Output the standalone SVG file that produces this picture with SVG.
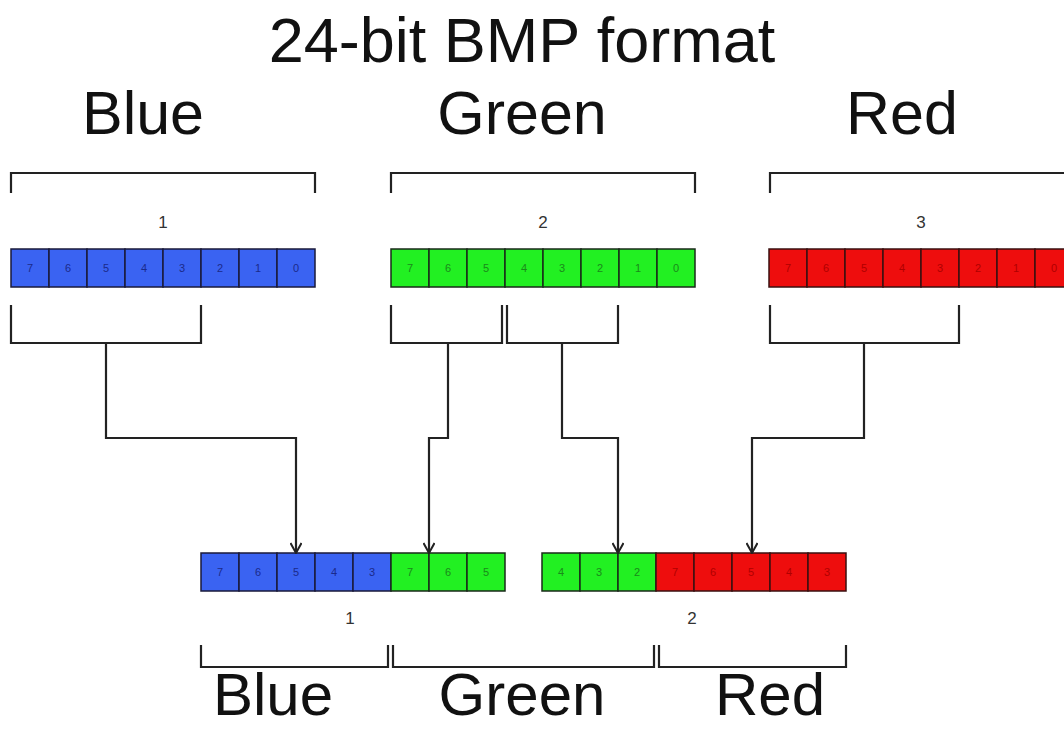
<svg xmlns="http://www.w3.org/2000/svg" width="1064" height="729" viewBox="0 0 1064 729">
<defs>
<style>
.big{font-family:"Liberation Sans",Arial,sans-serif;font-size:61px;fill:#111;text-anchor:middle}
.big2{font-family:"Liberation Sans",Arial,sans-serif;font-size:60px;fill:#111;text-anchor:middle}
.title{font-family:"Liberation Sans",Arial,sans-serif;font-size:63px;fill:#111;text-anchor:middle}
.num{font-family:"Liberation Sans",Arial,sans-serif;font-size:17px;fill:#333;text-anchor:middle}
.bit{font-family:"Liberation Sans",Arial,sans-serif;font-size:11px;text-anchor:middle}
.b rect{fill:#3a63f2;stroke:#1a1a3a;stroke-width:1.5}
.b text{fill:#1a2a8a}
.g rect{fill:#22f022;stroke:#1a2a1a;stroke-width:1.5}
.g text{fill:#1a8a1a}
.r rect{fill:#ee0d0d;stroke:#3a1010;stroke-width:1.5}
.r text{fill:#b00000}
.br{fill:none;stroke:#222;stroke-width:2.2}
.conn{fill:none;stroke:#222;stroke-width:2.2}
</style>
<marker id="ah" viewBox="0 0 12 12" refX="11" refY="6" markerWidth="12" markerHeight="12" markerUnits="userSpaceOnUse" orient="auto">
<path d="M1,0.5 L11,6 L1,11.5" fill="none" stroke="#222" stroke-width="2"/>
</marker>
</defs>
<rect width="1064" height="729" fill="#fff"/>
<text class="title" x="522" y="62">24-bit BMP format</text>
<text class="big" x="143" y="134">Blue</text>
<text class="big" x="522" y="134">Green</text>
<text class="big" x="902" y="134">Red</text>

<!-- top brackets -->
<path class="br" d="M11,193 V173 H315 V193"/>
<path class="br" d="M391,193 V173 H695 V193"/>
<path class="br" d="M770,193 V173 H1070"/>
<text class="num" x="163" y="228">1</text>
<text class="num" x="543" y="228">2</text>
<text class="num" x="921" y="228">3</text>

<g id="byte1" class="b bit">
<rect x="11" y="249" width="38" height="38"/><rect x="49" y="249" width="38" height="38"/><rect x="87" y="249" width="38" height="38"/><rect x="125" y="249" width="38" height="38"/><rect x="163" y="249" width="38" height="38"/><rect x="201" y="249" width="38" height="38"/><rect x="239" y="249" width="38" height="38"/><rect x="277" y="249" width="38" height="38"/>
<text x="30" y="272">7</text><text x="68" y="272">6</text><text x="106" y="272">5</text><text x="144" y="272">4</text><text x="182" y="272">3</text><text x="220" y="272">2</text><text x="258" y="272">1</text><text x="296" y="272">0</text>
</g>
<g id="byte2" class="g bit">
<rect x="391" y="249" width="38" height="38"/><rect x="429" y="249" width="38" height="38"/><rect x="467" y="249" width="38" height="38"/><rect x="505" y="249" width="38" height="38"/><rect x="543" y="249" width="38" height="38"/><rect x="581" y="249" width="38" height="38"/><rect x="619" y="249" width="38" height="38"/><rect x="657" y="249" width="38" height="38"/>
<text x="410" y="272">7</text><text x="448" y="272">6</text><text x="486" y="272">5</text><text x="524" y="272">4</text><text x="562" y="272">3</text><text x="600" y="272">2</text><text x="638" y="272">1</text><text x="676" y="272">0</text>
</g>
<g id="byte3" class="r bit">
<rect x="769" y="249" width="38" height="38"/><rect x="807" y="249" width="38" height="38"/><rect x="845" y="249" width="38" height="38"/><rect x="883" y="249" width="38" height="38"/><rect x="921" y="249" width="38" height="38"/><rect x="959" y="249" width="38" height="38"/><rect x="997" y="249" width="38" height="38"/><rect x="1035" y="249" width="38" height="38"/>
<text x="788" y="272">7</text><text x="826" y="272">6</text><text x="864" y="272">5</text><text x="902" y="272">4</text><text x="940" y="272">3</text><text x="978" y="272">2</text><text x="1016" y="272">1</text><text x="1054" y="272">0</text>
</g>

<g id="out1">
<g class="b bit">
<rect x="201" y="553" width="38" height="38"/><rect x="239" y="553" width="38" height="38"/><rect x="277" y="553" width="38" height="38"/><rect x="315" y="553" width="38" height="38"/><rect x="353" y="553" width="38" height="38"/>
<text x="220" y="576">7</text><text x="258" y="576">6</text><text x="296" y="576">5</text><text x="334" y="576">4</text><text x="372" y="576">3</text>
</g>
<g class="g bit">
<rect x="391" y="553" width="38" height="38"/><rect x="429" y="553" width="38" height="38"/><rect x="467" y="553" width="38" height="38"/>
<text x="410" y="576">7</text><text x="448" y="576">6</text><text x="486" y="576">5</text>
</g>
<text class="num" x="350" y="624">1</text>
</g>
<g id="out2">
<g class="g bit">
<rect x="542" y="553" width="38" height="38"/><rect x="580" y="553" width="38" height="38"/><rect x="618" y="553" width="38" height="38"/>
<text x="561" y="576">4</text><text x="599" y="576">3</text><text x="637" y="576">2</text>
</g>
<g class="r bit">
<rect x="656" y="553" width="38" height="38"/><rect x="694" y="553" width="38" height="38"/><rect x="732" y="553" width="38" height="38"/><rect x="770" y="553" width="38" height="38"/><rect x="808" y="553" width="38" height="38"/>
<text x="675" y="576">7</text><text x="713" y="576">6</text><text x="751" y="576">5</text><text x="789" y="576">4</text><text x="827" y="576">3</text>
</g>
<text class="num" x="692" y="624">2</text>
</g>

<g id="connectors">
<path class="br" d="M11,305 V343 H201 V305"/>
<path class="br" d="M391,305 V343 H502 V305"/>
<path class="br" d="M507,305 V343 H618 V305"/>
<path class="br" d="M770,305 V343 H959 V305"/>
<path class="conn" d="M106,343 V438 H296 V553" marker-end="url(#ah)"/>
<path class="conn" d="M448,343 V438 H429 V553" marker-end="url(#ah)"/>
<path class="conn" d="M562,343 V438 H618 V553" marker-end="url(#ah)"/>
<path class="conn" d="M864,343 V438 H752 V553" marker-end="url(#ah)"/>
</g>

<!-- bottom brackets -->
<path class="br" d="M201,645 V667 H388 V645"/>
<path class="br" d="M393,645 V667 H654 V645"/>
<path class="br" d="M659,645 V667 H846 V645"/>
<text class="big2" x="273" y="715">Blue</text>
<text class="big2" x="522" y="715">Green</text>
<text class="big2" x="770" y="715">Red</text>
</svg>
